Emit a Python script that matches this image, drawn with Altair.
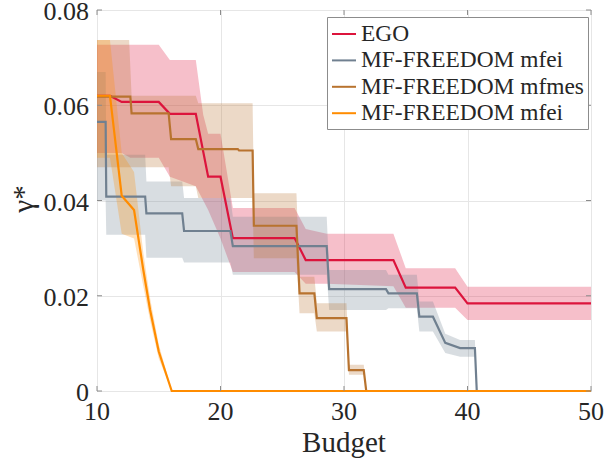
import altair as alt
import pandas as pd

# ---- series: mean curves -------------------------------------------------
ego_x = [10, 11.05, 12, 15, 15.9, 18, 19, 20, 21, 26, 26.9, 34, 35, 39, 40, 50]
ego_y = [0.062, 0.062, 0.0607, 0.0607, 0.0582, 0.0582, 0.045, 0.045, 0.0321, 0.0321,
         0.0275, 0.0275, 0.0217, 0.0217, 0.0184, 0.0184]

mfei_x = [10, 10.7, 10.75, 13.9, 14.0, 16.9, 17.05, 20.8, 21.0, 28.6, 28.8, 33.4, 33.6,
          35.9, 36.1, 37.2, 38.2, 39.4, 40.6, 40.75, 50]
mfei_y = [0.0565, 0.0565, 0.0408, 0.0408, 0.0373, 0.0373, 0.0336, 0.0336, 0.0304, 0.0304,
          0.0214, 0.0214, 0.0205, 0.0205, 0.0156, 0.0156, 0.0101, 0.0090, 0.0090, 0, 0]

mfmes_x = [10, 12.7, 12.8, 15.8, 16.0, 18.0, 18.2, 21.4, 21.5, 22.6, 22.7, 26.15, 26.4,
           27.6, 27.8, 30.2, 30.4, 31.6, 31.8, 50]
mfmes_y = [0.0618, 0.0618, 0.0583, 0.0583, 0.0529, 0.0529, 0.0508, 0.0508, 0.0505, 0.0505,
           0.0347, 0.0347, 0.0205, 0.0205, 0.0153, 0.0153, 0.0044, 0.0044, 0, 0]

mfei2_x = [10, 11.05, 12, 13, 13.75, 14.3, 15, 16.05, 50]
mfei2_y = [0.062, 0.062, 0.041, 0.038, 0.0254, 0.017, 0.0083, 0, 0]

# ---- series: confidence bands ---------------------------------------------
ego_bx = [10, 12, 12.7, 15, 15.9, 18, 18.6, 19, 20, 21, 26, 26.9, 28.6, 34, 35, 39, 40, 50]
ego_hi = [0.0727, 0.0727, 0.0727, 0.0727, 0.0695, 0.0695, 0.058, 0.054, 0.054, 0.0384,
          0.0384, 0.034, 0.033, 0.033, 0.0258, 0.0258, 0.0219, 0.0219]
ego_lo = [0.050, 0.050, 0.049, 0.049, 0.045, 0.043, 0.040, 0.038, 0.032, 0.025, 0.025,
          0.0225, 0.0225, 0.022, 0.0175, 0.0175, 0.0149, 0.0149]

mfei_bx = [10, 10.7, 10.75, 13.9, 14.0, 16.9, 17.05, 20.8, 21.0, 28.6, 28.8, 33.4, 33.6,
           35.9, 36.1, 37.2, 38.2, 39.4, 40.6, 40.75]
mfei_hi = [0.067, 0.067, 0.0496, 0.0496, 0.044, 0.044, 0.0405, 0.0405, 0.0366, 0.0366,
           0.0254, 0.0254, 0.0244, 0.0244, 0.0188, 0.0188, 0.012, 0.0107, 0.0107, 0]
mfei_lo = [0.040, 0.040, 0.0328, 0.0328, 0.028, 0.028, 0.027, 0.027, 0.0244, 0.0244,
           0.017, 0.017, 0.0174, 0.0174, 0.0125, 0.0125, 0.008, 0.0072, 0.0072, 0]

mfmes_bx = [10, 12.6, 12.8, 15.8, 16.0, 18.0, 18.2, 22.6, 22.7, 26.15, 26.4, 27.6, 27.8,
            30.2, 30.4, 31.6, 31.8]
mfmes_hi = [0.0737, 0.0737, 0.062, 0.062, 0.062, 0.062, 0.0604, 0.0604, 0.0415, 0.0415,
            0.024, 0.024, 0.0184, 0.0184, 0.0055, 0.0055, 0]
mfmes_lo = [0.047, 0.047, 0.047, 0.047, 0.043, 0.043, 0.0405, 0.0405, 0.0279, 0.0279,
            0.0163, 0.0163, 0.0125, 0.0125, 0.0034, 0.0034, 0]

mfei2_bx = [10, 11.05, 12, 13, 13.75, 14.3, 15, 16.05]
mfei2_hi = [0.0737, 0.0737, 0.050, 0.046, 0.029, 0.0195, 0.0098, 0]
mfei2_lo = [0.049, 0.049, 0.033, 0.032, 0.022, 0.0148, 0.0068, 0]

names = ["EGO", "MF-FREEDOM mfei", "MF-FREEDOM mfmes", "MF-FREEDOM mfei "]
colors = ["#DC143C", "#708090", "#B8732F", "#FF8C00"]

# ---- axes ---------------------------------------------------------------------
x_ticks = [10, 20, 30, 40, 50]
x_tick_labels = ["10", "20", "30", "40", "50"]
y_ticks = [0, 0.02, 0.04, 0.06, 0.08]
y_tick_labels = ["0", "0.02", "0.04", "0.06", "0.08"]
x_title = "Budget"
y_title = "γ*"

lines = pd.concat([
    pd.DataFrame({"budget": x, "gamma": y, "method": n})
    for n, x, y in zip(names, [ego_x, mfei_x, mfmes_x, mfei2_x],
                       [ego_y, mfei_y, mfmes_y, mfei2_y])
], ignore_index=True)

bands = pd.concat([
    pd.DataFrame({"budget": x, "hi": h, "lo": l, "method": n})
    for n, x, h, l in zip(names, [ego_bx, mfei_bx, mfmes_bx, mfei2_bx],
                          [ego_hi, mfei_hi, mfmes_hi, mfei2_hi],
                          [ego_lo, mfei_lo, mfmes_lo, mfei2_lo])
], ignore_index=True)

xt = pd.DataFrame({"v": x_ticks, "t": x_tick_labels})
yt = pd.DataFrame({"v": y_ticks, "t": y_tick_labels})

FONT = "Liberation Serif"
QFONT = "'Liberation Serif', 'Times New Roman', serif"
INK = "#262626"
FRAME = "#8c8c8c"
W, H = 494, 381

x_scale = alt.Scale(domain=[10, 50], nice=False)
y_scale = alt.Scale(domain=[0, 0.08], nice=False)
grid_x = alt.Axis(values=x_ticks, labels=False, title=None, ticks=False, domain=False,
                  grid=True, gridColor="#e6e6e6")
grid_y = alt.Axis(values=y_ticks, labels=False, title=None, ticks=False, domain=False,
                  grid=True, gridColor="#e6e6e6")
color_scale = alt.Scale(domain=names, range=colors)

band_layer = alt.Chart(bands).mark_area(opacity=0.27).encode(
    x=alt.X("budget:Q", scale=x_scale, axis=grid_x),
    y=alt.Y("hi:Q", scale=y_scale, axis=grid_y),
    y2="lo:Q",
    color=alt.Color("method:N", scale=color_scale, legend=None),
    detail="method:N",
)

line_layer = alt.Chart(lines).mark_line(strokeWidth=2.2).encode(
    x=alt.X("budget:Q", scale=x_scale, axis=grid_x),
    y=alt.Y("gamma:Q", scale=y_scale, axis=grid_y),
    color=alt.Color("method:N", scale=color_scale, sort=names,
                    legend=alt.Legend(title=None, orient="none", legendX=230, legendY=7,
                                      symbolType="stroke", symbolSize=576,
                                      symbolStrokeWidth=2, labelFontSize=23.4,
                                      labelFont=FONT, labelColor=INK, labelOffset=4,
                                      rowPadding=1.4, padding=4, strokeColor=FRAME,
                                      fillColor="white", labelLimit=400)),
)

# inward tick marks on all four sides of the box
tick_len = 5
xticks_bottom = alt.Chart(xt).mark_rule(color=FRAME, strokeWidth=1).encode(
    x=alt.X("v:Q", scale=x_scale), y=alt.value(H), y2=alt.value(H - tick_len))
xticks_top = alt.Chart(xt).mark_rule(color=FRAME, strokeWidth=1).encode(
    x=alt.X("v:Q", scale=x_scale), y=alt.value(0), y2=alt.value(tick_len))
yticks_left = alt.Chart(yt).mark_rule(color=FRAME, strokeWidth=1).encode(
    y=alt.Y("v:Q", scale=y_scale), x=alt.value(0), x2=alt.value(tick_len))
yticks_right = alt.Chart(yt).mark_rule(color=FRAME, strokeWidth=1).encode(
    y=alt.Y("v:Q", scale=y_scale), x=alt.value(W), x2=alt.value(W - tick_len))

# tick labels and axis titles
xlabels = alt.Chart(xt).mark_text(font=QFONT, fontSize=26, color=INK,
                                  align="center", baseline="alphabetic").encode(
    x=alt.X("v:Q", scale=x_scale), y=alt.value(410), text="t:N")
ylabels = alt.Chart(yt).mark_text(font=QFONT, fontSize=26, color=INK, align="right",
                                  baseline="alphabetic", dy=10).encode(
    y=alt.Y("v:Q", scale=y_scale), x=alt.value(-8), text="t:N")
xtitle = alt.Chart(pd.DataFrame({"t": [x_title]})).mark_text(
    font=QFONT, fontSize=29, color=INK, align="center",
    baseline="alphabetic").encode(
    x=alt.value(W / 2), y=alt.value(442), text="t:N")
ytitle = alt.Chart(pd.DataFrame({"t": [y_title]})).mark_text(
    font=QFONT, fontSize=29, color=INK, align="center", baseline="alphabetic",
    angle=270).encode(
    x=alt.value(-64), y=alt.value(189), text="t:N")

chart = alt.layer(
    band_layer, line_layer, xticks_bottom, xticks_top, yticks_left, yticks_right,
    xlabels, ylabels, xtitle, ytitle
).resolve_scale(
    color="independent"
).properties(
    width=W, height=H,
    autosize=alt.AutoSizeParams(type="none"),
    padding={"left": 97, "top": 10, "right": 14, "bottom": 75},
).configure_view(
    stroke=FRAME, strokeWidth=1
)

chart.save("out.html", embed_options={"renderer": "svg", "actions": False})
